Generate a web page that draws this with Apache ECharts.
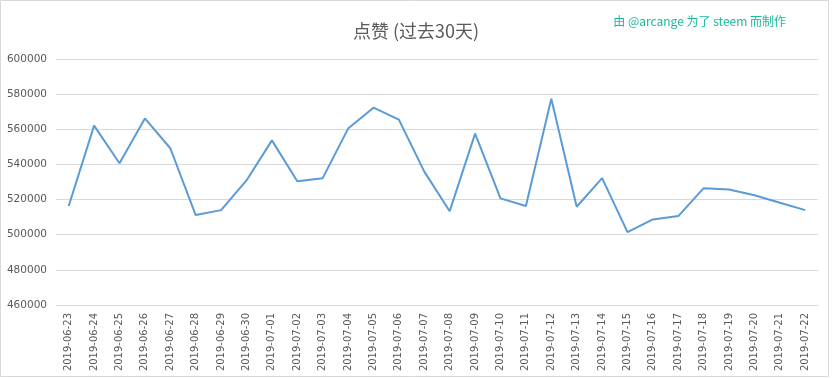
<!DOCTYPE html>
<html><head><meta charset="utf-8">
<script src="https://cdn.jsdelivr.net/npm/echarts@6/dist/echarts.min.js"></script>
<style>html,body{margin:0;padding:0;background:#fff}#c{width:832px;height:379px}</style>
</head><body><div id="c"></div>
<script>
const categories = ["2019-06-23","2019-06-24","2019-06-25","2019-06-26","2019-06-27","2019-06-28","2019-06-29","2019-06-30","2019-07-01","2019-07-02","2019-07-03","2019-07-04","2019-07-05","2019-07-06","2019-07-07","2019-07-08","2019-07-09","2019-07-10","2019-07-11","2019-07-12","2019-07-13","2019-07-14","2019-07-15","2019-07-16","2019-07-17","2019-07-18","2019-07-19","2019-07-20","2019-07-21","2019-07-22"];
const votes = [516300,562100,540700,566200,549200,511200,514000,530900,553700,530400,532200,560400,572300,565500,535900,513400,557500,520700,516300,577400,515900,532200,501500,508700,510600,526500,525700,522500,518200,514000];
const yTicks = {min:460000, max:600000, interval:20000};
const titleText = "点赞 (过去30天)";
const creditText = "由 @arcange 为了 steem 而制作";

const chart = echarts.init(document.getElementById('c'));
chart.setOption({
  animation:false,
  backgroundColor:'#fff',
  title:[{text:titleText,left:'center',top:17,textStyle:{fontFamily:'Noto Sans CJK SC',fontSize:18,fontWeight:'normal',color:'#595959'}},
         {text:creditText,right:41,top:10,textStyle:{fontFamily:'Noto Sans CJK SC',fontSize:12,fontWeight:'normal',color:'#1ab99a'}}],
  graphic:[{type:'rect',shape:{x:0.5,y:0.5,width:828,height:376},style:{fill:'none',stroke:'#d9d9d9',lineWidth:1},silent:true}],
  grid:{left:56,right:14,top:59,bottom:74},
  xAxis:{type:'category',data:categories,boundaryGap:true,
    axisLine:{lineStyle:{color:'#d9d9d9'}},axisTick:{show:false},
    axisLabel:{rotate:90,interval:0,margin:8,fontFamily:'DejaVu Sans',fontSize:10,color:'#595959'}},
  yAxis:{type:'value',min:yTicks.min,max:yTicks.max,interval:yTicks.interval,
    axisLine:{show:false},axisTick:{show:false},
    splitLine:{lineStyle:{color:'#d9d9d9'}},
    axisLabel:{margin:9,fontFamily:'DejaVu Sans',fontSize:10.5,color:'#595959',formatter:function(v){return String(v);}}},
  series:[{type:'line',data:votes,symbol:'none',lineStyle:{color:'#5b9bd5',width:2}}]
});
</script></body></html>
